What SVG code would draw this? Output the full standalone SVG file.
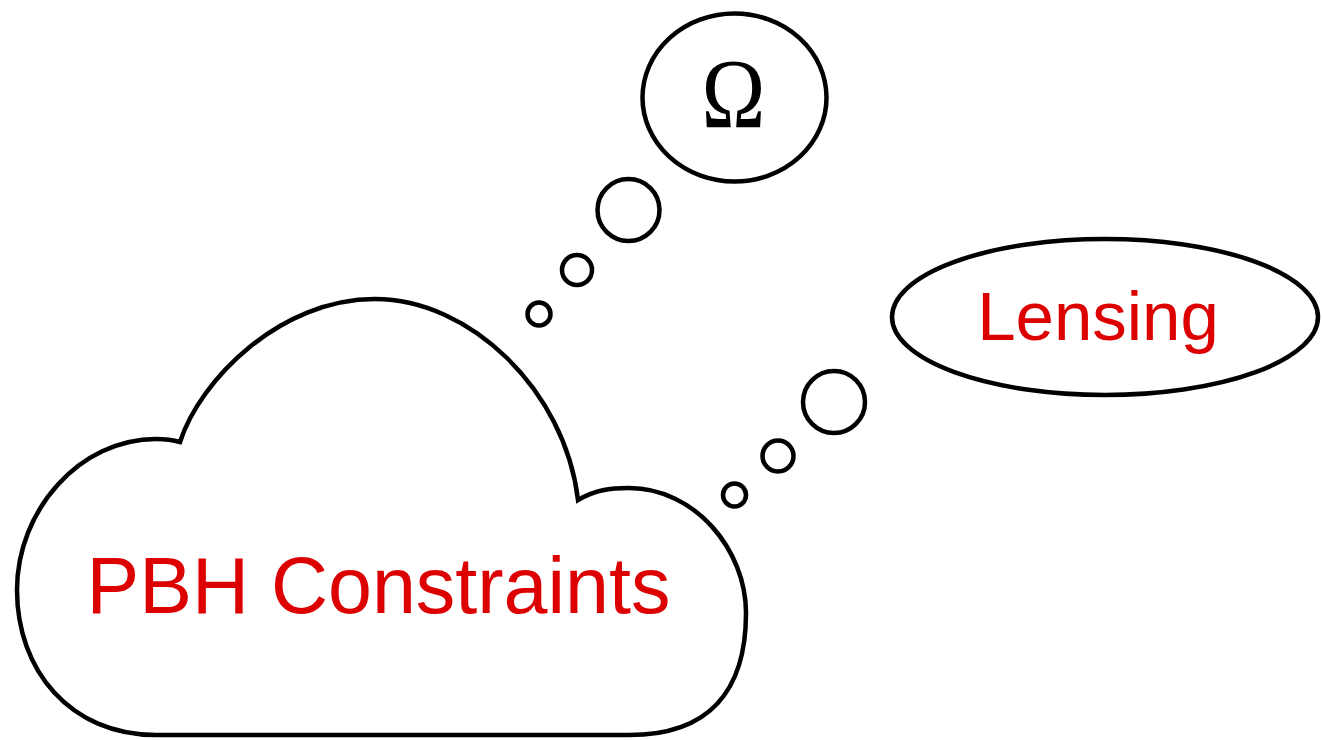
<svg xmlns="http://www.w3.org/2000/svg" width="1322" height="740" viewBox="0 0 1322 740">
<style>
.shape{fill:#ffffff;stroke:#000000;stroke-width:4.5}
.red{fill:#dd0000;font-family:"Liberation Sans",Arial,sans-serif;text-anchor:middle}
.omega{fill:#000000;font-family:"Liberation Serif","Times New Roman",serif;text-anchor:middle}
</style>
<rect width="1322" height="740" fill="#ffffff"/>
<g id="connectors">
<circle class="shape" cx="539" cy="314" r="11.5"/>
<circle class="shape" cx="577" cy="270" r="15"/>
<circle class="shape" cx="628.5" cy="210" r="31"/>
<circle class="shape" cx="734.5" cy="495" r="11.5"/>
<circle class="shape" cx="778" cy="456" r="15.5"/>
<circle class="shape" cx="834" cy="402" r="31"/>
</g>
<g id="pbh">
<path class="shape" d="M 180 442 C 200 380 280 299 375 299 C 470 299 565 390 578 500 C 595 490 610 488 629 488 C 695 488 746 550 746 613 C 746 690 710 735 629 735 L 156 735 C 70 735 17 670 17 590 C 17 510 80 439 156 439 C 165 439 173 440 180 442 Z"/>
<text class="red" x="378.5" y="613" font-size="79">PBH Constraints</text>
</g>
<g id="omega">
<ellipse class="shape" cx="734.5" cy="97.5" rx="92" ry="84"/>
<text class="omega" transform="translate(733.5 127) scale(0.86 1)" x="0" y="0" font-size="100">Ω</text>
</g>
<g id="lensing">
<ellipse class="shape" cx="1105" cy="317" rx="213" ry="78"/>
<text class="red" x="1098" y="340" font-size="69">Lensing</text>
</g>
</svg>
